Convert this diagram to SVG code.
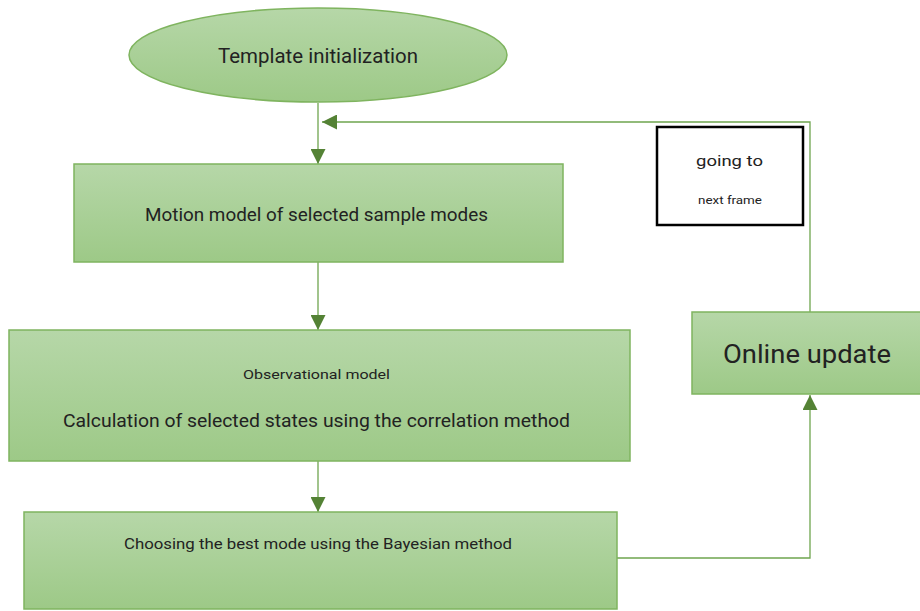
<svg xmlns="http://www.w3.org/2000/svg" width="920" height="611" viewBox="0 0 920 611">
<defs>
<linearGradient id="g" x1="0" y1="0" x2="0" y2="1">
<stop offset="0" stop-color="#b6d7a8"/>
<stop offset="1" stop-color="#9dc987"/>
</linearGradient>
<marker id="ah" viewBox="0 0 10 10" refX="10" refY="5" markerWidth="15" markerHeight="15" markerUnits="userSpaceOnUse" orient="auto">
<path d="M0,0 L10,5 L0,10 Z" fill="#548235"/>
</marker>
<style>
.n{fill:url(#g);stroke:#7fb45f;stroke-width:1.5}
.c{fill:none;stroke:#6fa54f;stroke-width:1.3}
text{font-family:Roboto,"Liberation Sans",sans-serif;fill:#222;text-anchor:middle}
</style>
</defs>
<rect width="920" height="611" fill="#fff"/>
<g id="connectors">
<path class="c" d="M318,103 V164" marker-end="url(#ah)"/>
<path class="c" d="M810,312 V122 H322" marker-end="url(#ah)"/>
<path class="c" d="M318,262 V330" marker-end="url(#ah)"/>
<path class="c" d="M318,461 V512" marker-end="url(#ah)"/>
<path class="c" d="M617,558 H810 V395" marker-end="url(#ah)"/>
</g>
<g id="start">
<ellipse class="n" cx="318" cy="55" rx="189" ry="47"/>
<text x="318" y="63" font-size="19.5" textLength="200" lengthAdjust="spacingAndGlyphs">Template initialization</text>
</g>
<g id="motion">
<rect class="n" x="74" y="164" width="489" height="98"/>
<text x="316.5" y="221" font-size="17.5" textLength="343" lengthAdjust="spacingAndGlyphs">Motion model of selected sample modes</text>
</g>
<g id="observation">
<rect class="n" x="9" y="330" width="621" height="131"/>
<text x="316.5" y="379" font-size="13" textLength="147" lengthAdjust="spacingAndGlyphs">Observational model</text>
<text x="316.5" y="427" font-size="18" fill="#333" textLength="507" lengthAdjust="spacingAndGlyphs">Calculation of selected states using the correlation method</text>
</g>
<g id="choose">
<rect class="n" x="24" y="512" width="593" height="97"/>
<text x="318" y="549" font-size="14.5" textLength="388" lengthAdjust="spacingAndGlyphs">Choosing the best mode using the Bayesian method</text>
</g>
<g id="online">
<rect class="n" x="692" y="312" width="230" height="82"/>
<text x="807" y="363" font-size="25" textLength="168" lengthAdjust="spacingAndGlyphs">Online update</text>
</g>
<g id="note">
<rect x="657" y="127" width="146" height="98" fill="#fff" stroke="#000" stroke-width="2.5"/>
<text x="729.5" y="166" font-size="15" fill="#444" textLength="67" lengthAdjust="spacingAndGlyphs">going to</text>
<text x="730" y="204" font-size="11.5" textLength="64" lengthAdjust="spacingAndGlyphs">next frame</text>
</g>
</svg>
